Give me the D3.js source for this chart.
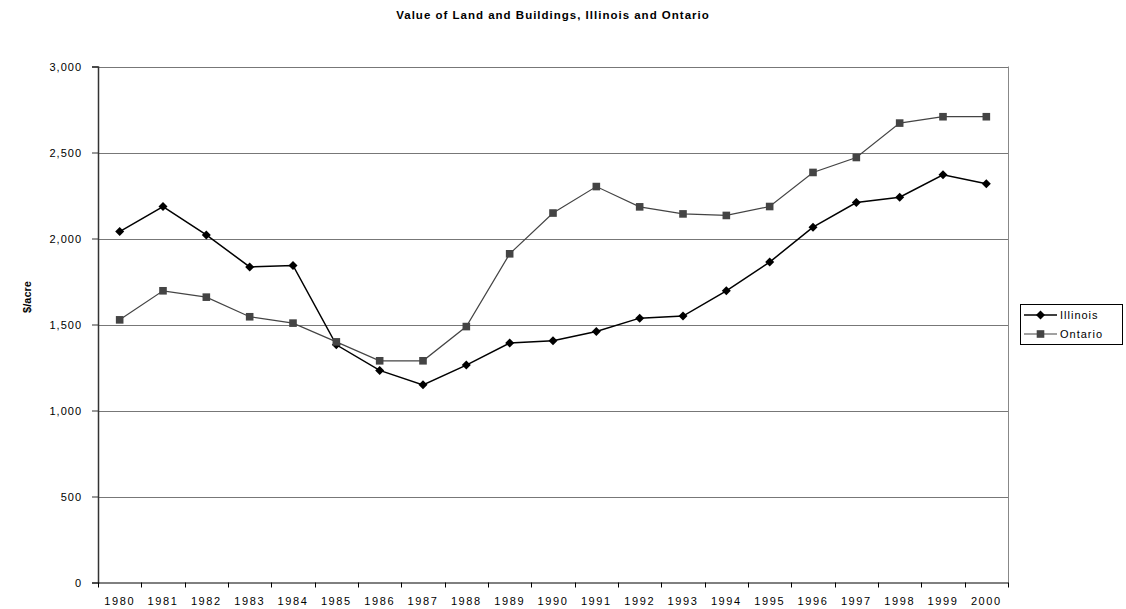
<!DOCTYPE html>
<html>
<head>
<meta charset="utf-8">
<script src="https://cdn.jsdelivr.net/npm/d3@7"></script>
<style>
  body { margin: 0; background: #fff; }
  text { font-family: "Liberation Sans", Arial, sans-serif; fill: #000; }
</style>
</head>
<body>
<svg id="chart" width="1126" height="609"></svg>
<script>
const years = ["1980","1981","1982","1983","1984","1985","1986","1987","1988","1989","1990",
               "1991","1992","1993","1994","1995","1996","1997","1998","1999","2000"];
const illinois = [2040, 2186, 2021, 1835, 1843, 1382, 1233, 1149, 1264, 1392, 1405,
                  1459, 1537, 1549, 1696, 1863, 2066, 2209, 2240, 2370, 2318];
const ontario = [1527, 1696, 1659, 1545, 1508, 1399, 1289, 1289, 1488, 1911, 2148,
                 2302, 2184, 2143, 2134, 2186, 2384, 2471, 2671, 2708, 2708];
const yTicks = [0, 500, 1000, 1500, 2000, 2500, 3000];

const svg = d3.select("#chart");
const plotLeft = 98, plotRight = 1008, plotTop = 66.5, plotBottom = 582.5;

const x = d3.scaleBand().domain(years).range([plotLeft, plotRight]);
const y = d3.scaleLinear().domain([0, 3000]).range([plotBottom, plotTop]);

// title
svg.append("text")
    .attr("x", 553).attr("y", 19)
    .attr("text-anchor", "middle")
    .style("font-size", "11.5px").style("font-weight", "bold")
    .style("letter-spacing", "1px")
    .text("Value of Land and Buildings, Illinois and Ontario");

// gridlines
svg.append("g")
  .selectAll("line")
  .data(yTicks.filter(d => d > 0))
  .enter().append("line")
    .attr("x1", plotLeft).attr("x2", plotRight)
    .attr("y1", d => Math.round(y(d)) + 0.5).attr("y2", d => Math.round(y(d)) + 0.5)
    .attr("stroke", "#777").attr("stroke-width", 1);

// right border
svg.append("line")
    .attr("x1", plotRight + 0.5).attr("x2", plotRight + 0.5)
    .attr("y1", y(3000)).attr("y2", y(0))
    .attr("stroke", "#888");

// y axis
const yAxis = svg.append("g")
    .attr("transform", `translate(${plotLeft},0)`)
    .call(d3.axisLeft(y).tickValues(yTicks).tickSize(6).tickPadding(10)
          .tickFormat(d3.format(",")));
yAxis.select(".domain").attr("stroke", "#333").attr("stroke-width", 1.5);
yAxis.selectAll(".tick line").attr("stroke", "#333");
yAxis.selectAll("text").style("font-size", "11px").style("letter-spacing", "1px")
    .style("font-family", "'Liberation Sans', Arial, sans-serif").attr("fill", "#000");

// x axis, ticks between categories
const xAxis = svg.append("g")
    .attr("transform", `translate(0,${plotBottom})`)
    .call(d3.axisBottom(x).tickSize(0).tickPadding(15));
xAxis.select(".domain").attr("stroke", "#000").attr("stroke-width", 1);
xAxis.selectAll("text").style("font-size", "11px").style("letter-spacing", "1.6px")
    .style("font-family", "'Liberation Sans', Arial, sans-serif").attr("fill", "#000");
xAxis.selectAll(".sep")
  .data(years.concat(["end"]))
  .enter().append("line")
    .attr("x1", (d, i) => Math.round(plotLeft + i * x.bandwidth()) + 0.5)
    .attr("x2", (d, i) => Math.round(plotLeft + i * x.bandwidth()) + 0.5)
    .attr("y1", 0).attr("y2", 5)
    .attr("stroke", "#000");

// y label
svg.append("text")
    .attr("transform", "translate(31,297) rotate(-90)")
    .attr("text-anchor", "middle")
    .style("font-size", "11px").style("font-weight", "bold")
    .text("$/acre");

const cx = i => x(years[i]) + x.bandwidth() / 2;
const line = d3.line().x((d, i) => cx(i)).y(d => y(d));

const series = [
  { name: "Illinois", values: illinois, color: "#000", width: 1.5, shape: "diamond" },
  { name: "Ontario", values: ontario, color: "#444", width: 1.2, shape: "square" }
];

const diamond = (px, py, r) => `M${px},${py - r}L${px + r},${py}L${px},${py + r}L${px - r},${py}Z`;

series.forEach(s => {
  svg.append("path")
      .datum(s.values)
      .attr("fill", "none")
      .attr("stroke", s.color)
      .attr("stroke-width", s.width)
      .attr("d", line);
  const g = svg.append("g");
  if (s.shape === "diamond") {
    g.selectAll("path").data(s.values).enter().append("path")
        .attr("d", (d, i) => diamond(cx(i), y(d), 4.5))
        .attr("fill", s.color);
  } else {
    g.selectAll("rect").data(s.values).enter().append("rect")
        .attr("x", (d, i) => cx(i) - 3.8).attr("y", d => y(d) - 3.8)
        .attr("width", 7.6).attr("height", 7.6)
        .attr("fill", s.color);
  }
});

// legend
const lg = svg.append("g");
lg.append("rect")
    .attr("x", 1020.5).attr("y", 304.5).attr("width", 102).attr("height", 40)
    .attr("fill", "#fff").attr("stroke", "#000");
series.forEach((s, i) => {
  const ly = 315 + i * 19;
  lg.append("line")
      .attr("x1", 1024).attr("x2", 1057).attr("y1", ly).attr("y2", ly)
      .attr("stroke", s.color).attr("stroke-width", s.width);
  if (s.shape === "diamond") {
    lg.append("path").attr("d", diamond(1040.5, ly, 4.5)).attr("fill", s.color);
  } else {
    lg.append("rect").attr("x", 1036.7).attr("y", ly - 3.8)
        .attr("width", 7.6).attr("height", 7.6).attr("fill", s.color);
  }
  lg.append("text")
      .attr("x", 1060).attr("y", ly + 4)
      .style("font-size", "11px").style("letter-spacing", "1px")
      .text(s.name);
});
</script>
</body>
</html>
